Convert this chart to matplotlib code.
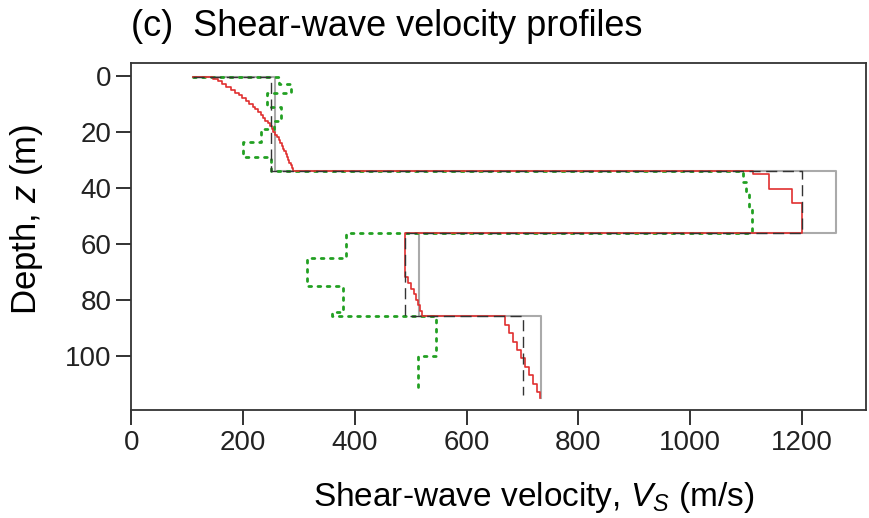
import numpy as np
import matplotlib
matplotlib.use('Agg')
import matplotlib.pyplot as plt

# surface starting point shared by all profiles
z_surf = 0.5
v_surf = 110

# layer boundaries (m) and shear-wave velocities (m/s) of each profile
z_mean = [0.5, 34, 56, 86, 114]
v_mean = [250, 1200, 490, 700]

z_gray = [0.5, 34, 56, 86, 115]
v_gray = [258, 1260, 515, 733]

z_red = [0.5, 1, 2, 3, 4, 5, 6, 7, 8, 9, 10, 11, 12, 13, 14, 15, 16, 17, 18, 19, 20,
         21, 22, 23, 24, 25, 26, 27, 28, 29, 30, 31, 32, 33, 34,
         35.1, 40.3, 45.4, 56,
         72, 74, 76, 78, 80, 82, 84, 86,
         89, 92, 95, 98, 101, 104, 107, 110, 113, 115]
v_red = [147, 155, 163, 170, 178, 185, 192, 199, 205, 211,
         217, 222, 227, 232, 236, 240, 244, 248, 251, 254,
         258, 261, 264, 266, 269, 271, 274, 276, 278, 281,
         283, 285, 288, 290,
         1113, 1140, 1182, 1200,
         490, 495, 500, 505, 509, 513, 517, 521,
         668, 676, 683, 690, 698, 705, 711, 718, 725, 731]

z_green = [0.5, 3, 6, 11, 16, 19, 23.5, 29, 34, 38, 42, 47, 56, 65, 75, 84.5, 86, 100, 111.7]
v_green = [265, 285, 242, 268, 255, 233, 200, 250, 1095, 1100, 1105, 1110,
           385, 314, 378, 360, 545, 513]


def steps(z, v):
    # staircase profile: start at surface point, then each layer top->bottom
    xs = [v_surf]
    ys = [z_surf]
    for i in range(len(v)):
        xs += [v[i], v[i]]
        ys += [z[i], z[i + 1]]
    return xs, ys


plt.rcParams['font.family'] = ['Liberation Sans', 'DejaVu Sans']
plt.rcParams['mathtext.fontset'] = 'custom'
plt.rcParams['mathtext.it'] = 'Liberation Sans:italic'
plt.rcParams['mathtext.rm'] = 'Liberation Sans'

fig = plt.figure(figsize=(8.69, 5.18), dpi=100)
ax = fig.add_axes([0.151, 0.208, 0.846, 0.670])

x, y = steps(z_gray, v_gray)
ax.plot(x, y, color='#aaaaaa', lw=1.5)
x, y = steps(z_green, v_green)
ax.plot(x, y, color='#22a022', lw=2.0, dashes=(1, 2.3), dash_capstyle='round')
x, y = steps(z_red, v_red)
ax.plot(x, y, color='#e03030', lw=1.2)
x, y = steps(z_mean, v_mean)
ax.plot(x, y, color='#333333', lw=1.0, dashes=(8, 4))

ax.set_xlim(0, 1315)
ax.set_ylim(119.5, -4.5)
ax.set_xticks(np.arange(0, 1201, 200))
ax.set_yticks(np.arange(0, 101, 20))
ax.tick_params(direction='out', length=11, width=1.3, labelsize=20, pad=3, colors='#222222')
for s in ax.spines.values():
    s.set_linewidth(1.3)
    s.set_color('#333333')

ax.set_xlabel('Shear-wave velocity, $V_S$ (m/s)', fontsize=24)
ax.xaxis.set_label_coords(0.548, -0.2)
ax.set_ylabel('Depth, $z$ (m)', fontsize=25)
ax.yaxis.set_label_coords(-0.117, 0.55)
fig.text(0.151, 0.948, '(c)  Shear-wave velocity profiles', fontsize=26, va='center', ha='left')

fig.savefig('out.png', dpi=100)
